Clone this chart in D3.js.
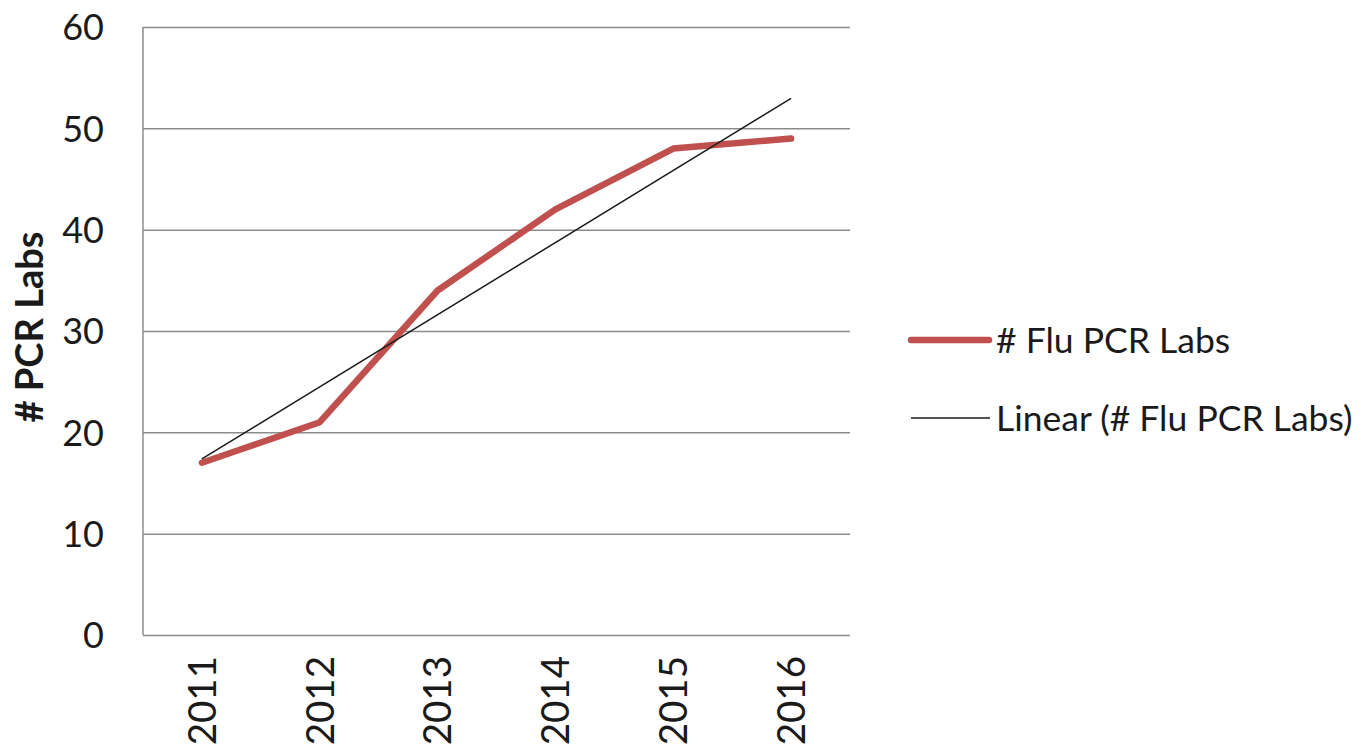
<!DOCTYPE html>
<html><head><meta charset="utf-8">
<script src="https://cdn.jsdelivr.net/npm/d3@7"></script>
<style>body{margin:0;background:#fff}svg{display:block}text{font-family:Lato,"Open Sans",sans-serif;fill:#1a1a1a}</style>
</head><body>
<svg id="c" width="1371" height="754"></svg>
<script>
const years = ["2011","2012","2013","2014","2015","2016"];
const labs = [17, 21, 34, 42, 48, 49];
const yTicks = [0,10,20,30,40,50,60];
const seriesName = "# Flu PCR Labs";
const trendName = "Linear (# Flu PCR Labs)";
const yTitle = "# PCR Labs";

const svg = d3.select("#c");
const L = 143, R = 850, T = 27, B = 635;
const x = d3.scaleBand().domain(years).range([L, R]);
const y = d3.scaleLinear().domain([0, 60]).range([B, T]);
const cx = d => x(d) + x.bandwidth()/2;

// gridlines
svg.append("g").call(d3.axisLeft(y).tickValues(yTicks).tickSize(-(R-L)).tickFormat(""))
  .attr("transform", `translate(${L},0)`)
  .call(g => { g.select(".domain").remove(); g.selectAll("line").attr("stroke","#8c8c8c").attr("stroke-width",1.5); });
// y axis line
svg.append("line").attr("x1",L).attr("x2",L).attr("y1",T).attr("y2",B).attr("stroke","#8c8c8c").attr("stroke-width",1.5);
// y tick labels
svg.append("g").attr("transform", `translate(${L},0)`)
  .call(d3.axisLeft(y).tickValues(yTicks).tickSize(0).tickPadding(39))
  .call(g => { g.select(".domain").remove(); g.selectAll("text").attr("font-size",36).attr("font-family","Lato").attr("fill","#1a1a1a").attr("dy","0.36em"); });
// x labels
svg.append("g").attr("transform", `translate(0,${B})`)
  .call(d3.axisBottom(x).tickSize(0).tickFormat(d=>d))
  .call(g => { g.select(".domain").remove();
    g.selectAll("text").attr("font-size",38.5).attr("font-family","Lato").attr("fill","#1a1a1a")
     .attr("transform","rotate(-90)").attr("text-anchor","end").attr("x",-21).attr("y",0).attr("dy","0.36em"); });

// y title
svg.append("text").attr("transform","translate(43,327) rotate(-90)").attr("text-anchor","middle")
  .attr("font-size",38).attr("font-weight","bold").text(yTitle);

// trend line (least squares on the data)
const n = labs.length, xs = labs.map((_,i)=>i+1);
const mx = d3.mean(xs), my = d3.mean(labs);
const slope = d3.sum(xs.map((v,i)=>(v-mx)*(labs[i]-my))) / d3.sum(xs.map(v=>(v-mx)**2));
const icpt = my - slope*mx;
const trend = years.map((yr,i)=>({yr, v: icpt + slope*(i+1)}));

// series line
const line = d3.line().x(d=>cx(d.yr)).y(d=>y(d.v));
svg.append("path").datum(years.map((yr,i)=>({yr, v: labs[i]})))
  .attr("d", line).attr("fill","none").attr("stroke","#C0504D").attr("stroke-width",6.5)
  .attr("stroke-linejoin","round").attr("stroke-linecap","round");
svg.append("path").datum([trend[0], trend[n-1]])
  .attr("d", line).attr("fill","none").attr("stroke","#1a1a1a").attr("stroke-width",1.5);

// legend
const lg = svg.append("g");
lg.append("line").attr("x1",911).attr("x2",989).attr("y1",340).attr("y2",340)
  .attr("stroke","#C0504D").attr("stroke-width",6.5).attr("stroke-linecap","round");
lg.append("text").attr("x",996).attr("y",340).attr("dy","0.36em").attr("font-size",35.5).text(seriesName);
lg.append("line").attr("x1",911).attr("x2",990).attr("y1",418).attr("y2",418)
  .attr("stroke","#1a1a1a").attr("stroke-width",1.5);
lg.append("text").attr("x",996).attr("y",418).attr("dy","0.36em").attr("font-size",35.5).text(trendName);
</script>
</body></html>
